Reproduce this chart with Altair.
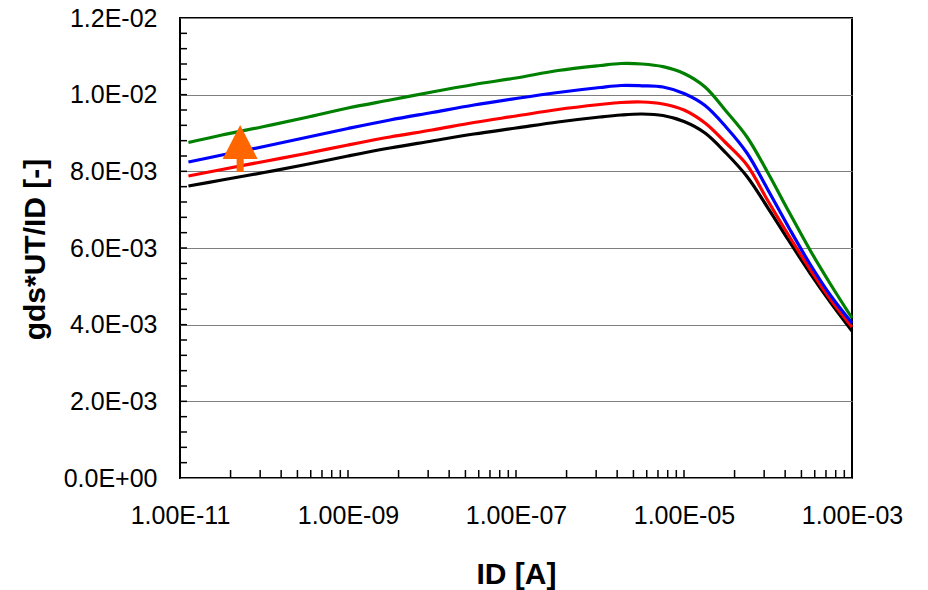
import altair as alt
import pandas as pd

# x positions (ID [A]) shared by all curves
id_values = [1.26e-11, 3.16e-11, 1e-10, 3.16e-10, 1e-9, 3.16e-9, 1e-8, 3.16e-8, 1e-7,
             3.16e-7, 1e-6, 1.78e-6, 3.16e-6, 5.62e-6, 1e-5, 1.78e-5, 3.16e-5, 5.62e-5,
             1e-4, 1.78e-4, 3.16e-4, 5.62e-4, 1e-3]

black_vals = [0.007617, 0.007774, 0.007970, 0.008178, 0.008400, 0.008609, 0.008791, 0.008974,
              0.009130, 0.009287, 0.009417, 0.009470, 0.009496, 0.009457, 0.009300, 0.009000,
              0.008478, 0.007865, 0.007043, 0.006183, 0.005348, 0.004565, 0.003835]
red_vals = [0.007878, 0.008048, 0.008257, 0.008465, 0.008687, 0.008896, 0.009078, 0.009274,
            0.009443, 0.009613, 0.009743, 0.009796, 0.009809, 0.009757, 0.009600, 0.009261,
            0.008739, 0.008165, 0.007226, 0.006313, 0.005452, 0.004643, 0.003939]
blue_vals = [0.008243, 0.008426, 0.008648, 0.008883, 0.009117, 0.009339, 0.009535, 0.009730,
             0.009900, 0.010057, 0.010187, 0.010239, 0.010231, 0.010200, 0.010030, 0.009717,
             0.009157, 0.008478, 0.007513, 0.006522, 0.005583, 0.004748, 0.004043]
green_vals = [0.008752, 0.008948, 0.009170, 0.009404, 0.009652, 0.009861, 0.010070, 0.010265,
              0.010435, 0.010630, 0.010761, 0.010813, 0.010800, 0.010730, 0.010552, 0.010200,
              0.009574, 0.008896, 0.007957, 0.006939, 0.005948, 0.005035, 0.004174]

series_names = ["black", "red", "blue", "green"]
series_colors = ["#000000", "#FF0000", "#0000FF", "#008000"]

# tick values / labels
x_major_ticks = [1e-11, 1e-9, 1e-7, 1e-5, 1e-3]
x_tick_labels = ["1.00E-11", "1.00E-09", "1.00E-07", "1.00E-05", "1.00E-03"]
x_minor_mult = [4, 9, 16, 25, 36, 49, 64, 81]
y_major_ticks = [0.0, 0.002, 0.004, 0.006, 0.008, 0.010, 0.012]
y_tick_labels = ["0.0E+00", "2.0E-03", "4.0E-03", "6.0E-03", "8.0E-03", "1.0E-02", "1.2E-02"]
y_minor_step_count = 30  # minor ticks every 0.0004

# annotation arrow (position in data units)
arrow_x = [5.2e-11]
arrow_y = [0.008596]

rows = []
for name, vals in zip(series_names, [black_vals, red_vals, blue_vals, green_vals]):
    for i, (xv, yv) in enumerate(zip(id_values, vals)):
        rows.append({"x": xv, "y": yv, "series": name, "order": i})
df = pd.DataFrame(rows)

x_minor = [m * d for d in x_major_ticks[:-1] for m in x_minor_mult] + x_major_ticks
y_minor = [round(0.012 * k / y_minor_step_count, 6) for k in range(1, y_minor_step_count)]

FONT = "Liberation Sans"
W, H = 672, 460

x_scale = alt.Scale(type="log", domain=[1e-11, 1e-3], nice=False)
y_scale = alt.Scale(domain=[0, 0.012], nice=False, zero=True)

x_label_expr = "[" + ",".join(f"'{s}'" for s in x_tick_labels) + "][round((log(datum.value)/LN10+11)/2)]"
y_label_expr = "[" + ",".join(f"'{s}'" for s in y_tick_labels) + "][round(datum.value/0.002)]"

x_axis = alt.Axis(values=x_major_ticks, labelExpr=x_label_expr, grid=False, ticks=False,
                  domain=False, labelFont=FONT, labelFontSize=25, labelPadding=25,
                  labelColor="black", labelFlush=False, labelOverlap=False,
                  title="ID [A]", titleFont=FONT, titleFontSize=30, titleFontWeight="bold",
                  titleColor="black", titleX=W / 2, titleY=105, titleBaseline="alphabetic")
y_axis = alt.Axis(values=y_major_ticks, labelExpr=y_label_expr, grid=True, gridColor="#7f7f7f",
                  gridWidth=1.2, ticks=False, domain=False, labelFont=FONT, labelFontSize=25,
                  labelPadding=23, labelColor="black", labelFlush=False, labelOverlap=False,
                  title="gds*UT/ID [-]", titleFont=FONT, titleFontSize=30,
                  titleFontWeight="bold", titleColor="black", titleX=-136, titleY=231,
                  titleAngle=270, titleBaseline="alphabetic", titleAlign="center")

lines = alt.Chart(df).mark_line(strokeWidth=3.2, interpolate="catmull-rom").encode(
    x=alt.X("x:Q", scale=x_scale, axis=x_axis),
    y=alt.Y("y:Q", scale=y_scale, axis=y_axis),
    color=alt.Color("series:N", scale=alt.Scale(domain=series_names, range=series_colors), legend=None),
    order="order:Q",
)

xt_df = pd.DataFrame({"x": x_minor})
x_ticks = alt.Chart(xt_df).mark_rule(color="black", strokeWidth=1.5).encode(
    x=alt.X("x:Q", scale=x_scale, axis=x_axis),
    y=alt.value(H),
    y2=alt.value(H - 8),
)

yt_df = pd.DataFrame({"y": y_minor})
y_ticks = alt.Chart(yt_df).mark_rule(color="black", strokeWidth=1.5).encode(
    y=alt.Y("y:Q", scale=y_scale, axis=y_axis),
    x=alt.value(0),
    x2=alt.value(7),
)

arrow_df = pd.DataFrame({"x": arrow_x, "y": arrow_y})
arrow = alt.Chart(arrow_df).mark_point(
    shape="M0,-1L0.745,0.447L0.149,0.447L0.149,1L-0.149,1L-0.149,0.447L-0.745,0.447Z",
    filled=True, color="#FF6600", opacity=1, size=2209, strokeWidth=0,
).encode(
    x=alt.X("x:Q", scale=x_scale, axis=x_axis),
    y=alt.Y("y:Q", scale=y_scale, axis=y_axis),
)

chart = alt.layer(y_ticks, x_ticks, lines, arrow).properties(
    width=W, height=H,
    background="white",
    autosize=alt.AutoSizeParams(type="none"),
    padding={"left": 180, "top": 18, "right": 76, "bottom": 112},
).configure_view(stroke="black", strokeWidth=2)

chart.save("out.html", embed_options={"renderer": "svg", "actions": False})
